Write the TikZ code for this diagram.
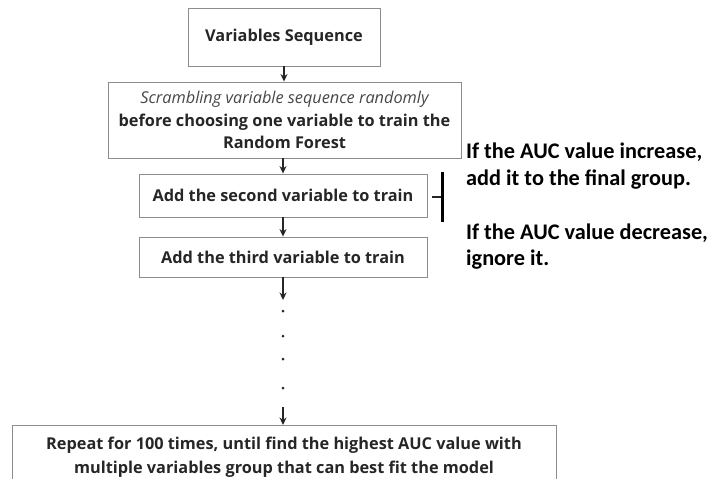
\documentclass[tikz,border=0pt]{standalone}
\usepackage{fontspec}
\setmainfont{Open Sans}
\newfontfamily\notefont{Carlito}
\usetikzlibrary{arrows.meta}
\definecolor{boxline}{HTML}{8C8C8C}
\definecolor{ink}{HTML}{262626}
\tikzset{
  stepbox/.style={draw=boxline, line width=0.9pt, inner sep=0pt, align=center,
    font=\fontsize{16.3}{22.5}\selectfont\bfseries, text=ink},
  flow/.style={draw=ink, line width=1.3pt, -{Stealth[length=7.5pt,width=7pt]}},
  note/.style={anchor=west, inner sep=0pt, font=\notefont\fontsize{22.3}{24}\selectfont\bfseries, text=black},
  dotmark/.style={circle, fill=ink, inner sep=0pt, minimum size=3pt}
}
\begin{document}
\begin{tikzpicture}[x=1pt, y=-1pt]
\useasboundingbox (0,0) rectangle (710,479);
\clip (0,0) rectangle (710,479);
% process boxes
\node[stepbox, minimum width=192pt, minimum height=58pt] (seq) at (284,37) {Variables Sequence};
\node[stepbox, minimum width=353pt, minimum height=76pt] (scr) at (284.5,120)
  {{\mdseries\itshape\color{ink!85} Scrambling variable sequence randomly}\\before choosing one variable to train the\\Random Forest};
\node[stepbox, minimum width=288pt, minimum height=43pt] (second) at (283,195.5) {Add the second variable to train};
\node[stepbox, minimum width=288pt, minimum height=40pt] (third) at (283,257) {Add the third variable to train};
\node[stepbox, minimum width=544pt, minimum height=76pt, anchor=north] (rep) at (284,425) {};
\node[font=\fontsize{16.3}{24}\selectfont\bfseries, text=ink, align=center, anchor=north, inner sep=0pt] (reptext) at (284,437)
  {Repeat for 100 times, until find the highest AUC value with\\multiple variables group that can best fit the model};
% ellipsis between the third step and the repetition
\coordinate (gapA) at (283,300);
\coordinate (gapB) at (283,407);
\node[dotmark] (d1) at (283,311) {};
\node[dotmark] (d2) at (283,336) {};
\node[dotmark] (d3) at (283,359) {};
\node[dotmark] (d4) at (283,388) {};
% connectors
\draw[flow] (seq.south) -- (seq.south |- scr.north);
\draw[flow] (second.north |- scr.south) -- (second.north);
\draw[flow] (second.south) -- (third.north);
\draw[flow] (third.south) -- (gapA);
\draw[flow] (gapB) -- (gapB |- rep.north);
% decision bracket
\coordinate (brTop) at (442,172);
\coordinate (brBot) at (442,222);
\coordinate (brTick) at (432,197);
\draw[ink, line width=1.2pt] (brTick) -- (brTick -| brTop);
\draw[black, line width=3pt] (brTop) -- (brBot);
% notes
\node[note] (n1) at (466,152) {If the AUC value increase,};
\node[note] (n2) at (466,180) {add it to the final group.};
\node[note] (n3) at (466,233) {If the AUC value decrease,};
\node[note] (n4) at (466,260) {ignore it.};
\end{tikzpicture}
\end{document}
